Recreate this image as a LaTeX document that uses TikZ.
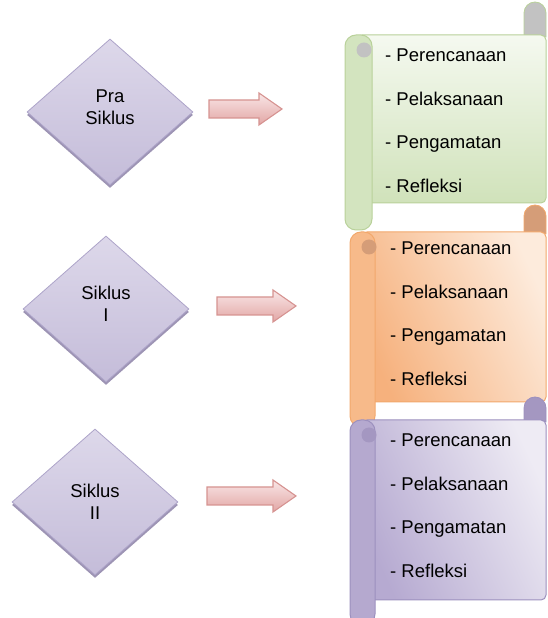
\documentclass[tikz,border=0pt]{standalone}
\usepackage{fontspec}
\setmainfont{Liberation Sans}
\usetikzlibrary{shapes.geometric, calc, shadows}

% diamonds and arrows
\definecolor{diamTop}{HTML}{DDD8EA}
\definecolor{diamBot}{HTML}{C4BCD9}
\definecolor{diamLine}{HTML}{ADA4C9}
\definecolor{diamShade}{HTML}{9D94B4}
\definecolor{arrTop}{HTML}{F9E6E6}
\definecolor{arrBot}{HTML}{E2A6A5}
\definecolor{arrLine}{HTML}{D69391}
% green scroll
\definecolor{gLight}{HTML}{F5F9F0}
\definecolor{gDark}{HTML}{D0E2BA}
\definecolor{gLine}{HTML}{B9D19A}
\definecolor{gPole}{HTML}{D3E4BF}
\definecolor{gCurl}{HTML}{C2C2C2}
% orange scroll
\definecolor{oLight}{HTML}{FDEBDC}
\definecolor{oDark}{HTML}{F6B17D}
\definecolor{oLine}{HTML}{F2A86C}
\definecolor{oPole}{HTML}{F7BA8A}
\definecolor{oCurl}{HTML}{D59D78}
% purple scroll
\definecolor{pLight}{HTML}{EEEBF4}
\definecolor{pDark}{HTML}{B6AAD1}
\definecolor{pLine}{HTML}{9C90BE}
\definecolor{pPole}{HTML}{B5A9CF}
\definecolor{pCurl}{HTML}{A497C1}

\tikzset{
	stage/.style={diamond, aspect=1.14, minimum width=166pt, minimum height=146pt,
		inner sep=0pt, draw=diamLine, line width=0.8pt, top color=diamTop, bottom color=diamBot,
		align=center, font=\fontsize{18.5}{22}\selectfont,
		general shadow={fill=diamShade, shadow yshift=-3pt}},
	blockarrow/.style={draw=arrLine, line width=1.1pt, top color=arrTop, bottom color=arrBot},
	item/.style={anchor=base west, inner sep=0pt, font=\fontsize{18.5}{22}\selectfont}
}

\begin{document}
\begin{tikzpicture}[x=1pt, y=1pt]
	\useasboundingbox (0,0) rectangle (547,618);
	\clip (0,0) rectangle (547,618);
	
	% Scrolls (green, orange, purple), drawn top to bottom
	\foreach \sc/\xo/\yt/\yb/\ch/\ct/\ang/\tx/\ty in {g/345/583/415/27/33/180/385/556,
		o/350/386/216/25/27/115/390/363, p/350/198/18/25/23/115/390/171} {
		% curl at the top right, behind the sheet
		\draw[draw=\sc Line, fill=\sc Curl, line width=0.8pt]
			(524,\yt-2) -- (524,\yt+\ct-11) arc[start angle=180, end angle=0, radius=11] -- (546,\yt-2) -- cycle;
		% the sheet itself
		\draw[draw=\sc Line, line width=1pt, rounded corners=5pt, top color=\sc Dark, bottom color=\sc Light,
			shading angle=\ang] (\xo+12,\yb) rectangle (546,\yt);
		% rolled pole on the left
		\draw[draw=\sc Line, fill=\sc Pole, line width=1pt, rounded corners=11pt]
			(\xo,\yb-\ch) rectangle (\xo+\ch,\yt);
		\fill[\sc Curl] (\xo+19,\yt-15) circle (7.5);
		% list of steps
		\foreach \i/\lbl in {1/Perencanaan, 2/Pelaksanaan, 3/Pengamatan, 4/Refleksi} {
			\node[item] (\sc-\i) at (\tx,\ty-43.5*\i+43.5) {- \lbl};
		}
	}
	
	% Stages as diamonds
	\node[stage, text depth=10pt] (pra) at (110,506) {Pra\\Siklus};
	\node[stage, text depth=10pt] (sik1) at (106,309) {Siklus\\I};
	\node[stage] (sik2) at (95,116) {Siklus\\II};
	
	% Block arrows between stage and scroll
	\foreach \n/\xs/\xe/\y in {1/209/282/509, 2/217/296/312, 3/207/296/122} {
		\coordinate (from\n) at (\xs,\y);
		\coordinate (to\n) at (\xe,\y);
		\draw[blockarrow] ($(from\n)+(0,9)$) -- ($(to\n)+(-23,9)$) -- ($(to\n)+(-23,16)$) -- (to\n)
			-- ($(to\n)+(-23,-16)$) -- ($(to\n)+(-23,-9)$) -- ($(from\n)+(0,-9)$) -- cycle;
	}
	
\end{tikzpicture}
\end{document}
